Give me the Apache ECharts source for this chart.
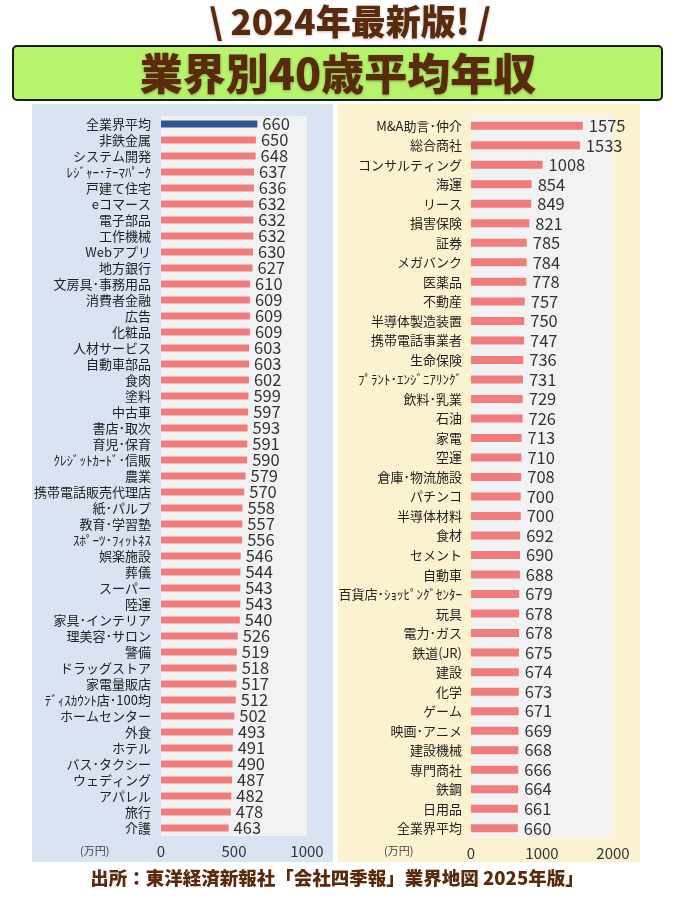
<!DOCTYPE html>
<html>
<head>
<meta charset="utf-8">
<script src="https://cdn.jsdelivr.net/npm/echarts@6/dist/echarts.min.js"></script>
<style>
html,body{margin:0;padding:0;background:#fff;}
#main{width:675px;height:900px;}
</style>
</head>
<body>
<div id="main"></div>
<script>
// 左列（低い順）
var leftNames = ['全業界平均','非鉄金属','システム開発','ﾚｼﾞｬｰ･ﾃｰﾏﾊﾟｰｸ','戸建て住宅','eコマース','電子部品','工作機械','Webアプリ','地方銀行',
    '文房具･事務用品','消費者金融','広告','化粧品','人材サービス','自動車部品','食肉','塗料','中古車','書店･取次',
    '育児･保育','ｸﾚｼﾞｯﾄｶｰﾄﾞ･信販','農業','携帯電話販売代理店','紙･パルプ','教育･学習塾','ｽﾎﾟｰﾂ･ﾌｨｯﾄﾈｽ','娯楽施設','葬儀','スーパー',
    '陸運','家具･インテリア','理美容･サロン','警備','ドラッグストア','家電量販店','ﾃﾞｨｽｶｳﾝﾄ店･100均','ホームセンター','外食','ホテル',
    'バス･タクシー','ウェディング','アパレル','旅行','介護'];
var leftValues = [660,650,648,637,636,632,632,632,630,627,
    610,609,609,609,603,603,602,599,597,593,
    591,590,579,570,558,557,556,546,544,543,
    543,540,526,519,518,517,512,502,493,491,
    490,487,482,478,463];

// 右列（高い順）
var rightNames = ['M&A助言･仲介','総合商社','コンサルティング','海運','リース','損害保険','証券','メガバンク','医薬品','不動産',
    '半導体製造装置','携帯電話事業者','生命保険','ﾌﾟﾗﾝﾄ･ｴﾝｼﾞﾆｱﾘﾝｸﾞ','飲料･乳業','石油','家電','空運','倉庫･物流施設','パチンコ',
    '半導体材料','食材','セメント','自動車','百貨店･ｼｮｯﾋﾟﾝｸﾞｾﾝﾀｰ','玩具','電力･ガス','鉄道(JR)','建設','化学',
    'ゲーム','映画･アニメ','建設機械','専門商社','鉄鋼','日用品','全業界平均'];
var rightValues = [1575,1533,1008,854,849,821,785,784,778,757,
    750,747,736,731,729,726,713,710,708,700,
    700,692,690,688,679,678,678,675,674,673,
    671,669,668,666,664,661,660];

var leftTicks = [0,500,1000];
var rightTicks = [0,1000,2000];

var barColor = '#f07c7c';
var avgColor = '#2f5496';
var brown = '#5a2a0c';
var font = '"Noto Sans CJK JP", "Noto Sans", sans-serif';

var chart = echarts.init(document.getElementById('main'));

var leftData = leftValues.map(function(v, i){
    return {value: v, itemStyle: {color: i == 0 ? avgColor : barColor}};
});

function plain(v){ return String(v); }

var option = {
    backgroundColor: '#ffffff',
    animation: false,
    textStyle: {fontFamily: font},
    graphic: [
        {type:'rect', shape:{x:32, y:104, width:301, height:758}, style:{fill:'#dae3f1'}, z:-10},
        {type:'rect', shape:{x:338, y:104, width:302, height:758}, style:{fill:'#fdf2cf'}, z:-10},
        {type:'text', x:350, y:22, style:{text:'\\ 2024年最新版! /', font:'900 35px ' + font, fill:brown,
            align:'center', verticalAlign:'middle',
            textShadowColor:'rgba(0,0,0,0.25)', textShadowBlur:3, textShadowOffsetY:1}},
        {type:'rect', shape:{x:13, y:46, width:649, height:54, r:4},
            style:{fill:'#b8f36c', stroke:'#1a1a1a', lineWidth:2}},
        {type:'text', x:338, y:74, style:{text:'業界別40歳平均年収', font:'900 43px ' + font, fill:brown,
            align:'center', verticalAlign:'middle',
            textShadowColor:'rgba(0,0,0,0.3)', textShadowBlur:3, textShadowOffsetY:1}},
        {type:'text', x:80, y:845, style:{text:'(万円)', font:'11px ' + font, fill:'#444'}},
        {type:'text', x:384, y:845, style:{text:'(万円)', font:'11px ' + font, fill:'#444'}},
        {type:'text', x:337, y:878, style:{text:'出所：東洋経済新報社「会社四季報」業界地図 2025年版」',
            font:'900 18.5px ' + font, fill:brown, align:'center', verticalAlign:'middle'}}
    ],
    grid: [
        {left:161, top:116, width:146, height:720, show:true, backgroundColor:'#f2f2f2', borderWidth:0},
        {left:471, top:116, width:142, height:722, show:true, backgroundColor:'#f2f2f2', borderWidth:0}
    ],
    xAxis: [
        {gridIndex:0, type:'value', min:leftTicks[0], max:leftTicks[2], interval:leftTicks[1],
            splitLine:{show:false}, axisLine:{show:false}, axisTick:{show:false},
            axisLabel:{fontSize:15, color:'#333', margin:8, formatter:plain}},
        {gridIndex:1, type:'value', min:rightTicks[0], max:rightTicks[2], interval:rightTicks[1],
            splitLine:{show:false}, axisLine:{show:false}, axisTick:{show:false},
            axisLabel:{fontSize:15, color:'#333', margin:8, formatter:plain}}
    ],
    yAxis: [
        {gridIndex:0, type:'category', data:leftNames, inverse:true,
            axisLine:{show:false}, axisTick:{show:false},
            axisLabel:{interval:0, fontSize:13, color:'#222', margin:10}},
        {gridIndex:1, type:'category', data:rightNames, inverse:true,
            axisLine:{show:false}, axisTick:{show:false},
            axisLabel:{interval:0, fontSize:13, color:'#222', margin:9}}
    ],
    series: [
        {
            type:'bar', xAxisIndex:0, yAxisIndex:0, data:leftData, barWidth:7,
            label:{show:true, position:'right', distance:5, fontSize:16.5, color:'#333'}
        },
        {
            type:'bar', xAxisIndex:1, yAxisIndex:1, data:rightValues, barWidth:8,
            itemStyle:{color:barColor},
            label:{show:true, position:'right', distance:6, fontSize:16.5, color:'#333'}
        }
    ]
};
chart.setOption(option, true);
</script>
</body>
</html>
